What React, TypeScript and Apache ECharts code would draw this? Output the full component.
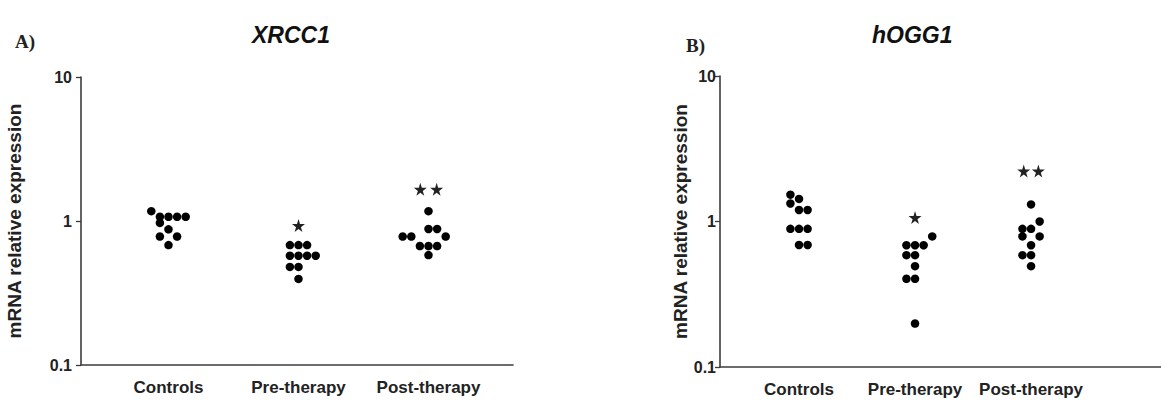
import React, { useEffect, useRef } from "react";
import * as echarts from "echarts";

// ---------- data ----------
const categories = ["Controls", "Pre-therapy", "Post-therapy"];
const yTickValues = [0.1, 1, 10];

// Panel A: XRCC1 (values + beeswarm column index)
const xrccControls = [1.17, 1.07, 1.07, 1.07, 1.07, 0.97, 0.875, 0.78, 0.78, 0.68];
const xrccControlsCols = [-2, -1, 0, 1, 2, -1, 0, -1, 1, 0];
const xrccPre = [0.68, 0.68, 0.68, 0.574, 0.574, 0.574, 0.574, 0.48, 0.48, 0.396];
const xrccPreCols = [-1, 0, 1, -1, 0, 1, 2, -1, 0, 0];
const xrccPost = [1.17, 0.88, 0.88, 0.78, 0.78, 0.78, 0.67, 0.67, 0.67, 0.58];
const xrccPostCols = [0, 0, 1, -3, -2, 2, -1, 0, 1, 0];
const xrccStarCat = [2, 3, 3];
const xrccStarVal = [0.93, 1.66, 1.66];
const xrccStarCols = [0, -0.95, 0.95];

// Panel B: hOGG1
const ogg1Controls = [1.53, 1.43, 1.33, 1.2, 1.2, 0.89, 0.89, 0.89, 0.69, 0.69];
const ogg1ControlsCols = [-1, 0, -1, 0, 1, -1, 0, 1, 0, 1];
const ogg1Pre = [0.79, 0.687, 0.687, 0.687, 0.587, 0.587, 0.493, 0.404, 0.404, 0.199];
const ogg1PreCols = [2, -1, 0, 1, -1, 0, 0, -1, 0, 0];
const ogg1Post = [1.31, 1.0, 0.89, 0.89, 0.79, 0.79, 0.687, 0.587, 0.587, 0.493];
const ogg1PostCols = [0, 1, -1, 0, -1, 1, 0, -1, 0, 0];
const ogg1StarCat = [2, 3, 3];
const ogg1StarVal = [1.065, 2.22, 2.22];
const ogg1StarCols = [0, -0.85, 0.85];

// ---------- styling / layout ----------
const FONT = "'Liberation Sans', Arial, sans-serif";
const SERIF = "'Liberation Serif', 'Times New Roman', serif";
const AXIS_COLOR = "#3c3c3c";
const TEXT_COLOR = "#222";
const DOT_COLOR = "#000";
const COL_PX = 8.6;
const STAR_PATH =
  "path://M50,0 L61,35 L98,35 L68,57 L79,91 L50,70 L21,91 L32,57 L2,35 L39,35 Z";

const panels = [
  {
    grid: { left: 81, top: 77, width: 432, height: 288 },
    xMin: 0.327,
    xMax: 3.65,
    groups: [
      [xrccControls, xrccControlsCols],
      [xrccPre, xrccPreCols],
      [xrccPost, xrccPostCols],
    ],
    stars: [xrccStarCat, xrccStarVal, xrccStarCols],
    nameGap: 57,
    labelMargin: 9,
  },
  {
    grid: { left: 720, top: 76, width: 441, height: 291 },
    xMin: 0.319,
    xMax: 4.12,
    groups: [
      [ogg1Controls, ogg1ControlsCols],
      [ogg1Pre, ogg1PreCols],
      [ogg1Post, ogg1PostCols],
    ],
    stars: [ogg1StarCat, ogg1StarVal, ogg1StarCols],
    nameGap: 24,
    labelMargin: 4,
  },
];

function buildOption() {
  const grids: any[] = [];
  const xAxes: any[] = [];
  const yAxes: any[] = [];
  const series: any[] = [];

  panels.forEach((p, pi) => {
    grids.push({ ...p.grid, containLabel: false });
    const pxPerUnit = p.grid.width / (p.xMax - p.xMin);
    const step = COL_PX / pxPerUnit;
    xAxes.push({
      type: "value",
      gridIndex: pi,
      min: p.xMin,
      max: p.xMax,
      axisLine: { show: true, lineStyle: { color: AXIS_COLOR, width: 1.6 } },
      axisTick: { show: false },
      splitLine: { show: false },
      axisLabel: {
        customValues: [1, 2, 3],
        formatter: (v: number) => categories[Math.round(v) - 1] ?? "",
        color: TEXT_COLOR,
        fontFamily: FONT,
        fontWeight: "bold",
        fontSize: 17,
        margin: 14,
      },
    });
    yAxes.push({
      type: "log",
      logBase: 10,
      gridIndex: pi,
      min: yTickValues[0],
      max: yTickValues[yTickValues.length - 1],
      axisLine: { show: true, lineStyle: { color: AXIS_COLOR, width: 1.6 } },
      axisTick: { show: true, length: 5, lineStyle: { color: AXIS_COLOR, width: 1.3 } },
      splitLine: { show: false },
      axisLabel: {
        show: true,
        formatter: (v: number) => (v < 1 ? v.toFixed(1) : String(Math.round(v))),
        textStyle: undefined,
        color: TEXT_COLOR,
        fontFamily: FONT,
        fontWeight: "bold",
        fontSize: 16,
        margin: p.labelMargin,
      },
      name: "mRNA relative expression",
      nameLocation: "middle",
      nameGap: p.nameGap,
      nameTextStyle: {
        color: TEXT_COLOR,
        fontFamily: FONT,
        fontWeight: "bold",
        fontSize: 19,
      },
    });
    p.groups.forEach(([vals, cols], gi) => {
      series.push({
        type: "scatter",
        xAxisIndex: pi,
        yAxisIndex: pi,
        symbol: "circle",
        symbolSize: 8.5,
        itemStyle: { color: DOT_COLOR, opacity: 1 },
        data: (vals as number[]).map((v, i) => [gi + 1 + (cols as number[])[i] * step, v]),
      });
    });
    const [sc, sv, scol] = p.stars;
    series.push({
      type: "scatter",
      xAxisIndex: pi,
      yAxisIndex: pi,
      symbol: STAR_PATH,
      symbolSize: 13,
      itemStyle: { color: "#222", opacity: 1 },
      data: sc.map((c, i) => [c + scol[i] * step, sv[i]]),
    });
  });

  return {
    animation: false,
    backgroundColor: "#ffffff",
    title: [
      {
        text: "A)",
        left: 10,
        top: 27,
        textStyle: { fontFamily: SERIF, fontWeight: "bold", fontSize: 19, color: TEXT_COLOR },
      },
      {
        text: "XRCC1",
        left: 247,
        top: 18,
        textStyle: { fontFamily: FONT, fontWeight: "bold", fontStyle: "italic", fontSize: 23, color: "#111" },
      },
      {
        text: "B)",
        left: 681,
        top: 31,
        textStyle: { fontFamily: SERIF, fontWeight: "bold", fontSize: 19, color: TEXT_COLOR },
      },
      {
        text: "hOGG1",
        left: 867,
        top: 18,
        textStyle: { fontFamily: FONT, fontWeight: "bold", fontStyle: "italic", fontSize: 23, color: "#111" },
      },
    ],
    grid: grids,
    xAxis: xAxes,
    yAxis: yAxes,
    series,
  };
}

export default function App() {
  const ref = useRef<HTMLDivElement>(null);
  useEffect(() => {
    if (!ref.current) return;
    const chart = echarts.init(ref.current, undefined, { renderer: "svg" });
    chart.setOption(buildOption() as any);
    return () => chart.dispose();
  }, []);
  return (
    <div
      ref={ref}
      style={{ position: "fixed", left: 0, top: 0, width: 1161, height: 401, background: "#fff" }}
    />
  );
}
